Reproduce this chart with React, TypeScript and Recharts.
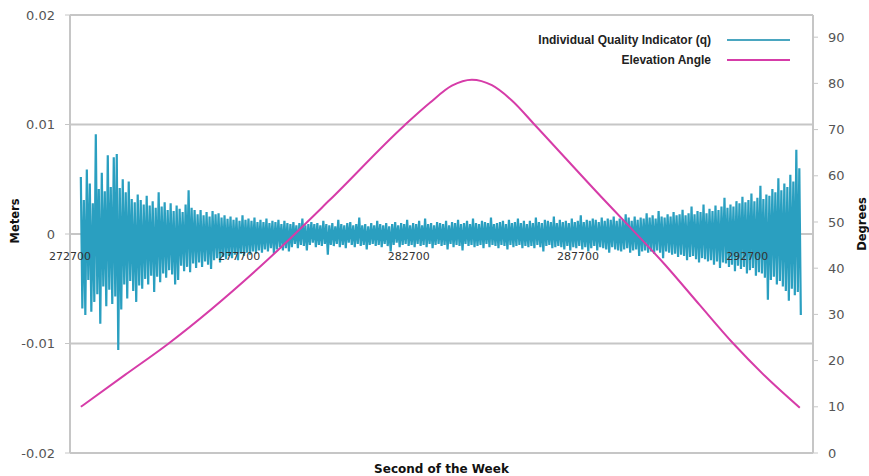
import React from 'react';
import { ComposedChart, Line, XAxis, YAxis, CartesianGrid, Legend, Label } from 'recharts';

const secondTicks = [272700, 277700, 282700, 287700, 292700];
const meterTicks = [-0.02, -0.01, 0, 0.01, 0.02];
const degreeTicks = [0, 10, 20, 30, 40, 50, 60, 70, 80, 90];

// individual quality indicator q in millimetres, one sample every qStep seconds
const qStart = 273020;
const qStep = 44.2;
const qMm = [
  5.2, -6.8, 3.1, -7.4, 5.9, -4.2, 4.6, -7.1, 2.8, -6.2, 9.1, -5.5, 4.1, -8.2, 5.6, -4.8, 3.9, -6.6, 7.2, -5.1,
  4.3, -6.4, 7.0, -5.7, 7.3, -10.6, 4.2, -6.9, 5.0, -4.6, 3.8, -5.9, 4.8, -4.3, 3.2, -5.2, 2.9, -6.2, 3.6, -4.7,
  3.1, -5.0, 2.7, -4.1, 3.5, -4.6, 2.6, -3.8, 3.0, -5.3, 2.4, -3.9, 3.8, -4.4, 2.5, -3.6, 2.9, -4.0, 2.2, -3.3,
  2.8, -3.7, 2.1, -4.6, 2.6, -4.2, 2.3, -2.9, 2.0, -3.4, 2.7, -3.0, 4.0, -3.5, 2.4, -2.7, 2.2, -3.1, 1.8, -2.6,
  2.2, -3.0, 1.7, -2.5, 2.0, -2.8, 1.6, -3.2, 2.1, -2.4, 1.8, -2.2, 1.9, -2.6, 1.5, -2.1, 1.7, -2.3, 1.4, -2.0,
  1.6, -2.2, 1.3, -1.9, 1.5, -2.4, 1.2, -1.8, 1.7, -2.0, 1.3, -1.7, 1.4, -1.9, 1.2, -1.6, 1.5, -1.8, 1.1, -1.5,
  1.3, -1.7, 1.1, -1.4, 1.4, -1.6, 1.0, -1.3, 1.2, -1.8, 1.1, -1.4, 1.3, -1.2, 0.9, -1.5, 1.2, -1.3, 1.0, -1.6,
  0.9, -1.2, 1.1, -0.9, 0.8, -1.3, 1.0, -1.0, 1.4, -1.1, 0.8, -1.5, 0.9, -1.0, 1.1, -0.8, 0.9, -1.2, 1.0, -1.0,
  0.8, -1.1, 1.2, -0.9, 0.9, -1.9, 0.8, -1.0, 1.0, -1.1, 0.7, -0.9, 1.3, -1.2, 0.9, -1.0, 0.8, -1.3, 1.0, -0.8,
  1.1, -1.0, 0.8, -1.2, 0.9, -0.9, 1.5, -1.1, 0.8, -1.0, 0.9, -1.4, 0.7, -1.0, 1.0, -0.9, 0.8, -1.1, 1.2, -1.0,
  0.9, -1.2, 0.8, -0.9, 1.0, -1.1, 0.7, -1.6, 0.9, -1.0, 1.1, -0.8, 0.8, -1.2, 1.0, -1.0, 0.9, -0.9, 1.3, -1.1,
  0.8, -1.0, 1.0, -1.2, 0.9, -0.9, 1.2, -1.1, 0.8, -1.0, 1.4, -1.2, 0.9, -0.9, 1.0, -1.3, 0.8, -1.0, 1.1, -0.9,
  1.0, -1.1, 0.9, -1.0, 1.2, -1.4, 0.8, -0.9, 1.1, -1.2, 1.0, -1.0, 1.3, -1.1, 0.9, -1.5, 1.0, -0.9, 1.2, -1.1,
  0.9, -1.0, 1.4, -1.2, 1.0, -1.1, 0.9, -1.0, 1.2, -1.3, 1.1, -0.9, 1.0, -1.2, 1.5, -1.0, 0.9, -1.1, 1.0, -1.3,
  1.1, -1.0, 1.2, -1.1, 0.9, -1.4, 1.3, -1.0, 1.0, -1.2, 1.1, -1.1, 1.4, -1.0, 1.0, -1.3, 1.2, -1.1, 0.9, -1.2,
  1.2, -1.1, 1.0, -1.3, 1.5, -1.0, 1.1, -1.2, 1.0, -1.6, 1.3, -1.1, 1.2, -1.0, 1.1, -1.3, 1.6, -1.2, 1.0, -1.1,
  1.3, -1.2, 1.1, -1.4, 1.2, -1.1, 1.0, -1.5, 1.4, -1.2, 1.1, -1.3, 1.2, -1.1, 1.7, -1.4, 1.1, -1.2, 1.3, -1.6,
  1.2, -1.3, 1.4, -1.1, 1.3, -1.5, 1.1, -1.2, 1.5, -1.3, 1.2, -1.4, 1.4, -1.7, 1.3, -1.2, 1.6, -1.4, 1.2, -1.5,
  1.4, -1.6, 1.3, -1.4, 1.8, -1.3, 1.5, -1.7, 1.2, -1.5, 1.6, -1.4, 1.3, -2.0, 1.5, -1.6, 1.4, -1.5, 1.9, -1.7,
  1.5, -1.6, 1.7, -1.8, 1.4, -1.5, 2.1, -1.7, 1.6, -2.2, 1.5, -1.6, 1.8, -1.7, 1.6, -1.9, 2.0, -1.8, 1.7, -2.1,
  1.8, -1.9, 2.2, -2.0, 1.7, -2.4, 1.9, -2.1, 2.5, -2.0, 1.8, -2.3, 2.1, -2.6, 2.0, -2.2, 2.7, -2.3, 1.9, -2.5,
  2.3, -2.4, 2.1, -2.8, 2.6, -2.5, 2.2, -3.1, 2.5, -2.6, 3.3, -2.7, 2.4, -3.0, 2.7, -2.8, 2.5, -3.4, 3.0, -2.9,
  2.8, -3.2, 3.4, -3.0, 2.9, -3.6, 3.1, -3.3, 3.7, -3.1, 3.0, -3.8, 3.3, -3.5, 4.4, -3.6, 3.2, -4.0, 3.6, -6.0,
  3.5, -4.2, 4.1, -3.9, 3.8, -4.6, 5.1, -4.3, 4.0, -4.8, 4.6, -5.2, 4.3, -6.1, 5.4, -5.0, 4.8, -5.6, 7.7, -5.3,
  6.0, -7.4,
];

// elevation angle of the satellite
const elevSeconds = [
  273020, 274324, 275593, 278309, 280375, 282589, 283327, 283977, 284567, 285157,
  285748, 286427, 288405, 289143, 290264, 291298, 292272, 293246, 294250,
];
const elevDegrees = [
  10.0, 16.9, 23.6, 40.3, 54.8, 71.0, 75.8, 79.5, 80.8, 79.6,
  76.3, 71.0, 55.3, 49.6, 40.8, 32.0, 23.8, 16.5, 9.8,
];

const legendItems = [
  { label: 'Individual Quality Indicator (q)', color: '#4aa6c0' },
  { label: 'Elevation Angle', color: '#d63ca8' },
];

const qData = qMm.map((v, i) => ({ sec: qStart + i * qStep, q: v / 1000 }));
const elevData = elevSeconds.map((s, i) => ({ sec: s, elev: elevDegrees[i] }));

const axisFont = 'DejaVu Sans, Verdana, sans-serif';

// second labels sit just under the zero line, not at the bottom
const ZeroTick = (props: any) => {
  const { x, payload } = props;
  return (
    <text x={x} y={260} textAnchor="middle" fontSize={11} fill="#333" fontFamily={axisFont}>
      {payload.value}
    </text>
  );
};

const renderLegend = () => (
  <div style={{ fontFamily: 'Liberation Sans, Arial, sans-serif', fontWeight: 'bold', fontSize: 12, color: '#222' }}>
    {legendItems.map((item) => (
      <div key={item.label} style={{ display: 'flex', alignItems: 'center', justifyContent: 'flex-end', height: 20 }}>
        <span>{item.label}</span>
        <span style={{ display: 'inline-block', width: 63, height: 2, marginLeft: 16, background: item.color }} />
      </div>
    ))}
  </div>
);

const titleStyle = { fontFamily: axisFont, fontWeight: 'bold', fill: '#111' };

const App: React.FC = () => {
  return (
    <div style={{ position: 'absolute', left: 0, top: 0, background: '#fff' }}>
      <ComposedChart width={869} height={476} margin={{ top: 15, right: 0, bottom: 0, left: 0 }}>
        <CartesianGrid yAxisId="m" vertical={false} stroke="#c6c6c6" strokeWidth={2} />
        <XAxis
          dataKey="sec"
          type="number"
          domain={[272700, 294640]}
          ticks={secondTicks}
          axisLine={false}
          tickLine={false}
          tick={<ZeroTick />}
          height={23}
          allowDataOverflow
        >
          <Label
            value="Second of the Week"
            position="insideBottom"
            offset={3}
            style={{ ...titleStyle, fontSize: 12 }}
          />
        </XAxis>
        <YAxis
          yAxisId="m"
          width={70}
          domain={[-0.02, 0.02]}
          ticks={meterTicks}
          tickFormatter={(v: number) => (v === 0 ? '0' : v.toFixed(2))}
          axisLine={{ stroke: '#c6c6c6', strokeWidth: 2 }}
          tickLine={{ stroke: '#c6c6c6' }}
          tickSize={5}
          tickMargin={10}
          tick={{ fontSize: 13, fill: '#555', fontFamily: axisFont }}
        >
          <Label
            value="Meters"
            angle={-90}
            position="insideLeft"
            offset={15}
            dy={-13}
            style={{ ...titleStyle, textAnchor: 'middle', fontSize: 11.5 }}
          />
        </YAxis>
        <YAxis
          yAxisId="d"
          orientation="right"
          width={56}
          domain={[0, 94.8]}
          ticks={degreeTicks}
          axisLine={{ stroke: '#c6c6c6', strokeWidth: 2 }}
          tickLine={{ stroke: '#c6c6c6' }}
          tickSize={5}
          tickMargin={10}
          tick={{ fontSize: 13, fill: '#555', fontFamily: axisFont }}
        >
          <Label
            value="Degrees"
            angle={-90}
            position="insideRight"
            offset={7}
            dy={-10}
            style={{ ...titleStyle, textAnchor: 'middle', fontSize: 11.5 }}
          />
        </YAxis>
        <Legend
          verticalAlign="middle"
          align="center"
          layout="vertical"
          content={renderLegend}
          wrapperStyle={{ top: 30, left: 440, width: 350 }}
        />
        <Line
          yAxisId="m"
          data={qData}
          dataKey="q"
          type="linear"
          stroke="#2a9fc0"
          strokeWidth={2.2}
          strokeLinejoin="bevel"
          dot={false}
          isAnimationActive={false}
          name="Individual Quality Indicator (q)"
        />
        <Line
          yAxisId="d"
          data={elevData}
          dataKey="elev"
          type="monotone"
          stroke="#d63ca8"
          strokeWidth={2}
          dot={false}
          isAnimationActive={false}
          name="Elevation Angle"
        />
      </ComposedChart>
    </div>
  );
};

export default App;
